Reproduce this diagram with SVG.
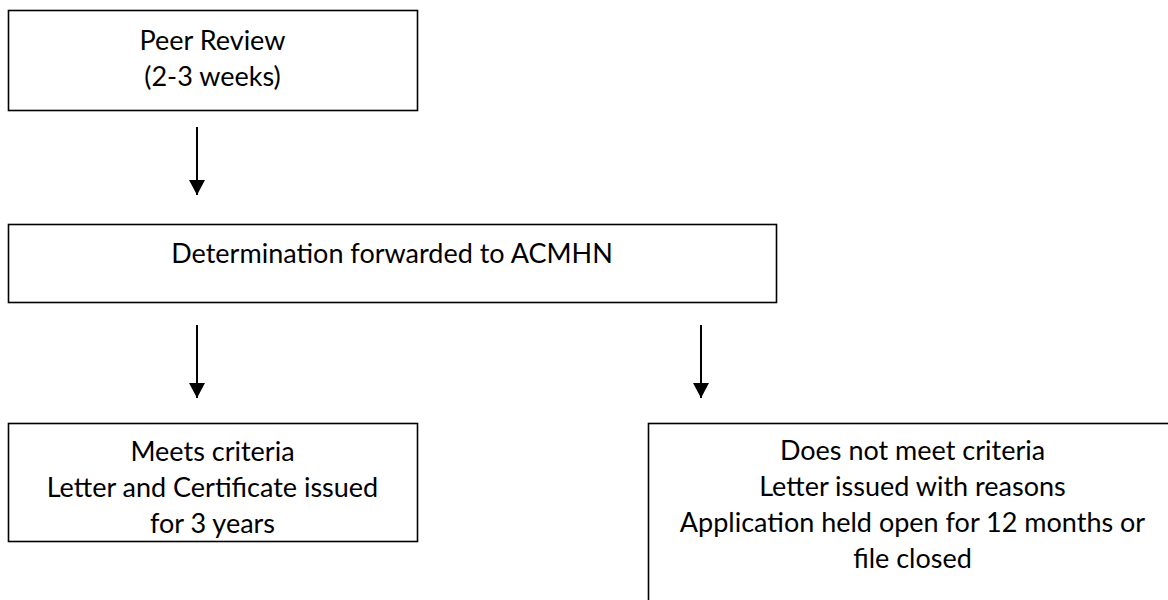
<svg xmlns="http://www.w3.org/2000/svg" width="1168" height="600" viewBox="0 0 1168 600">
  <style>
    .box { fill: #ffffff; stroke: #000000; stroke-width: 1.6; }
    .lbl { font-family: Lato, "Liberation Sans", sans-serif; font-size: 27px; fill: #000000; text-anchor: middle; }
    .conn { stroke: #000000; stroke-width: 2; fill: none; }
  </style>
  <defs>
    <marker id="arrow" markerUnits="userSpaceOnUse" markerWidth="16" markerHeight="16" refX="15" refY="8" orient="auto">
      <path d="M0,0 L15,8 L0,16 Z" fill="#000000"/>
    </marker>
  </defs>
  <rect width="1168" height="600" fill="#ffffff"/>
  <g id="node-peer-review">
    <rect class="box" x="8.5" y="10.5" width="409" height="100"/>
    <text class="lbl" x="212.5" y="50">Peer Review</text>
    <text class="lbl" x="212.5" y="86">(2-3 weeks)</text>
  </g>
  <g id="node-determination">
    <rect class="box" x="8.5" y="224.5" width="768" height="78"/>
    <text class="lbl" x="392" y="263">Determination forwarded to ACMHN</text>
  </g>
  <g id="node-meets">
    <rect class="box" x="8.5" y="423.5" width="409" height="118"/>
    <text class="lbl" x="212.5" y="461">Meets criteria</text>
    <text class="lbl" x="212.5" y="497">Letter and Certificate issued</text>
    <text class="lbl" x="212.5" y="533">for 3 years</text>
  </g>
  <g id="node-not-meets">
    <rect class="box" x="648.5" y="423.5" width="529" height="200"/>
    <text class="lbl" x="912.5" y="460">Does not meet criteria</text>
    <text class="lbl" x="912.5" y="496">Letter issued with reasons</text>
    <text class="lbl" x="912.5" y="532">Application held open for 12 months or</text>
    <text class="lbl" x="912.5" y="568">file closed</text>
  </g>
  <g id="connectors">
    <line class="conn" x1="197" y1="127" x2="197" y2="195" marker-end="url(#arrow)"/>
    <line class="conn" x1="197" y1="325" x2="197" y2="398" marker-end="url(#arrow)"/>
    <line class="conn" x1="701" y1="325" x2="701" y2="398" marker-end="url(#arrow)"/>
  </g>
</svg>
